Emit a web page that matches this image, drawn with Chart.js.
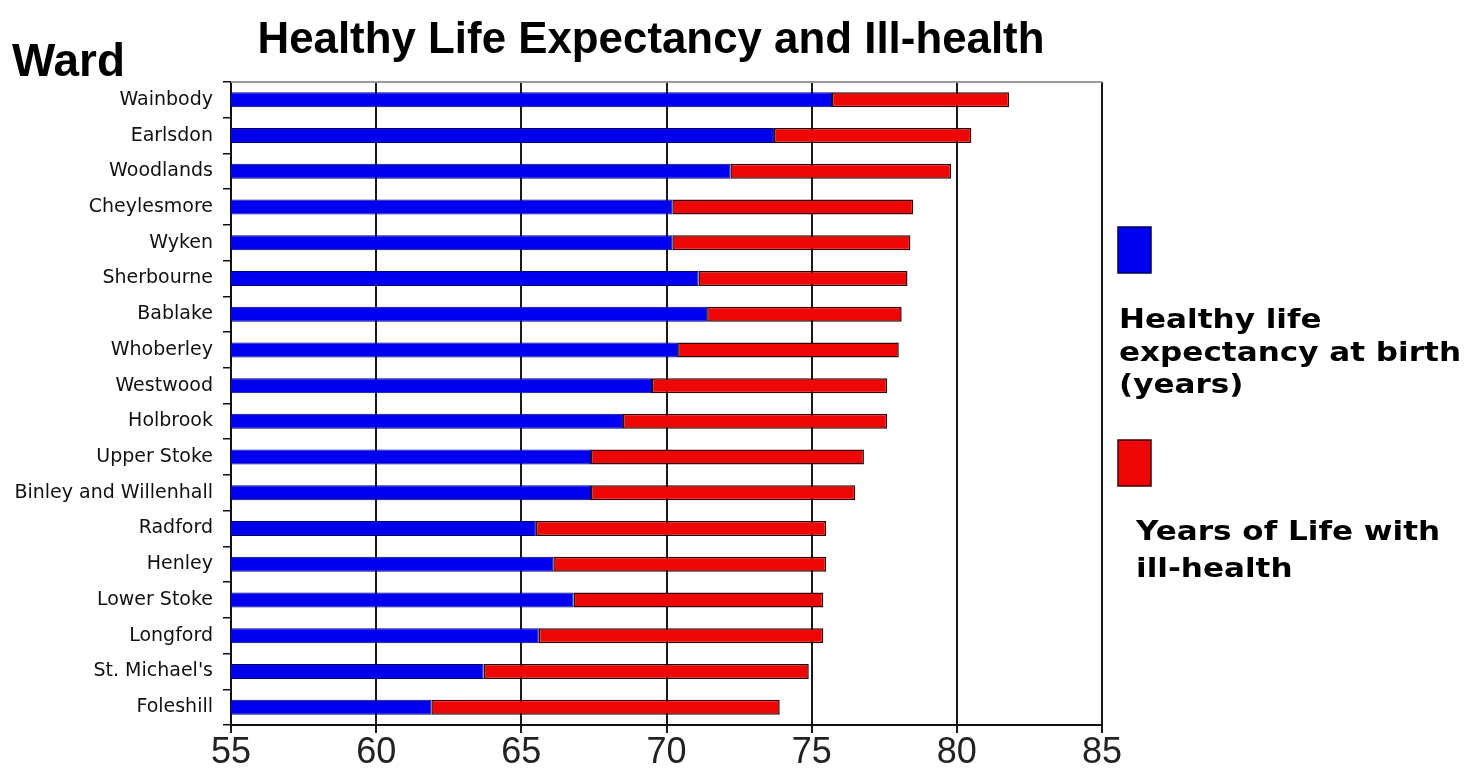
<!DOCTYPE html>
<html>
<head>
<meta charset="utf-8">
<title>Healthy Life Expectancy and Ill-health</title>
<script src="https://cdn.jsdelivr.net/npm/chart.js@4/dist/chart.umd.min.js"></script>
<style>
    html, body { margin: 0; padding: 0; background: #fff; }
    #wrap { width: 1464px; height: 773px; }
</style>
</head>
<body>
<div id="wrap"><canvas id="hleChart" width="1464" height="773"></canvas></div>
<script>
/* ========================================
   Healthy Life Expectancy by Ward
   ======================================== */

// Data
const wards = [
    'Wainbody', 'Earlsdon', 'Woodlands', 'Cheylesmore', 'Wyken', 'Sherbourne',
    'Bablake', 'Whoberley', 'Westwood', 'Holbrook', 'Upper Stoke',
    'Binley and Willenhall', 'Radford', 'Henley', 'Lower Stoke', 'Longford',
    "St. Michael's", 'Foleshill'
];
const healthyYears = [
    75.7, 73.7, 72.2, 70.2, 70.2, 71.1,
    71.4, 70.4, 69.5, 68.5, 67.4,
    67.4, 65.5, 66.1, 66.8, 65.6,
    63.7, 61.9
];
const illHealthYears = [
    6.1, 6.8, 7.6, 8.3, 8.2, 7.2,
    6.7, 7.6, 8.1, 9.1, 9.4,
    9.1, 10.0, 9.4, 8.6, 9.8,
    11.2, 12.0
];
const xTickValues = [55, 60, 65, 70, 75, 80, 85];

const chartTitle = 'Healthy Life Expectancy and Ill-health';
const axisTitle = 'Ward';
const legendLines = [
    ['Healthy life', 'expectancy at birth', '(years)'],
    ['Years of Life with', 'ill-health']
];

const BLUE = '#0000ee';
const RED = '#ee0606';

// Title, "Ward" heading, frame top and the side legend
const decorPlugin = {
    id: 'decor',
    beforeDatasetsDraw(chart) {
        const { ctx, chartArea } = chart;
        ctx.save();
        ctx.strokeStyle = '#9a9a9a';
        ctx.lineWidth = 2;
        ctx.beginPath();
        ctx.moveTo(chartArea.left, chartArea.top);
        ctx.lineTo(chartArea.right, chartArea.top);
        ctx.stroke();
        ctx.restore();
    },
    afterDraw(chart) {
        const ctx = chart.ctx;
        ctx.save();
        ctx.fillStyle = '#000';
        ctx.textBaseline = 'alphabetic';

        ctx.font = 'bold 44px "Liberation Sans", Arial, sans-serif';
        ctx.textAlign = 'center';
        ctx.fillText(chartTitle, 651, 53, 787);

        ctx.font = 'bold 46px "Liberation Sans", Arial, sans-serif';
        ctx.textAlign = 'left';
        ctx.fillText(axisTitle, 12, 76, 113);

        // legend boxes
        const boxes = [
            { y: 227, color: BLUE, border: '#00005a' },
            { y: 440, color: RED, border: '#3a0000' }
        ];
        boxes.forEach(b => {
            ctx.fillStyle = b.color;
            ctx.fillRect(1118, b.y, 33, 46);
            ctx.strokeStyle = b.border;
            ctx.lineWidth = 1.5;
            ctx.strokeRect(1118, b.y, 33, 46);
        });

        // legend text, stretched a little to the wide look of the original
        ctx.fillStyle = '#000';
        ctx.font = 'bold 27px "DejaVu Sans", Verdana, sans-serif';
        const sx = 342 / ctx.measureText(legendLines[0][1]).width;
        const groups = [
            { x: 1119, y: 328, step: 32.5 },
            { x: 1136, y: 540, step: 37 }
        ];
        legendLines.forEach((lines, i) => {
            lines.forEach((line, j) => {
                ctx.save();
                ctx.translate(groups[i].x, groups[i].y + j * groups[i].step);
                ctx.scale(sx, 1);
                ctx.fillText(line, 0, 0);
                ctx.restore();
            });
        });
        ctx.restore();
    }
};

function initChart() {
    const ctx = document.getElementById('hleChart');

    new Chart(ctx, {
        type: 'bar',
        data: {
            labels: wards,
            datasets: [{
                label: legendLines[0].join(' '),
                data: healthyYears,
                backgroundColor: BLUE,
                borderColor: '#00006a',
                borderWidth: 1,
                borderSkipped: false
            }, {
                label: legendLines[1].join(' '),
                data: illHealthYears,
                backgroundColor: RED,
                borderColor: '#300000',
                borderWidth: 1.5,
                borderSkipped: false
            }]
        },
        options: {
            indexAxis: 'y',
            responsive: false,
            animation: false,
            barPercentage: 0.42,
            categoryPercentage: 1,
            layout: {
                padding: { top: 82, right: 362, bottom: 0, left: 0 }
            },
            plugins: {
                legend: { display: false },
                title: { display: false },
                tooltip: { enabled: false }
            },
            scales: {
                x: {
                    stacked: true,
                    min: 55,
                    max: 85,
                    afterBuildTicks: scale => {
                        scale.ticks = xTickValues.map(v => ({ value: v }));
                    },
                    afterFit: scale => { scale.height = 48; },
                    grid: {
                        color: '#1a1a1a',
                        lineWidth: 2,
                        tickLength: 8,
                        drawTicks: true
                    },
                    border: { color: '#111', width: 2 },
                    ticks: {
                        padding: -2,
                        color: '#222',
                        font: { family: '"Liberation Sans Narrow", "Liberation Sans", Arial, sans-serif', size: 36 }
                    }
                },
                y: {
                    stacked: true,
                    afterFit: scale => { scale.width = 231; },
                    grid: {
                        drawOnChartArea: false,
                        drawTicks: true,
                        tickLength: 8,
                        offset: true,
                        color: '#111',
                        lineWidth: 1.5
                    },
                    border: { color: '#111', width: 2 },
                    ticks: {
                        padding: 10,
                        color: '#111',
                        font: { family: '"DejaVu Sans", Verdana, sans-serif', size: 19 }
                    }
                }
            }
        },
        plugins: [decorPlugin]
    });
}

initChart();
</script>
</body>
</html>
